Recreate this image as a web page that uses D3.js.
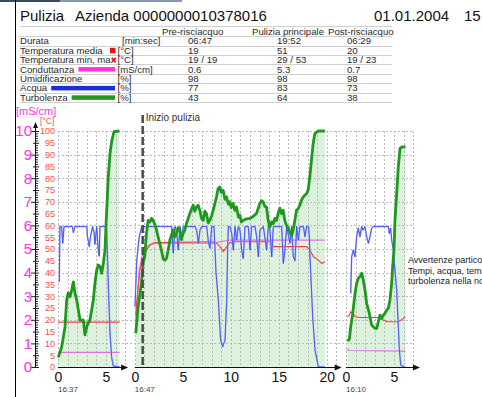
<!DOCTYPE html>
<html><head><meta charset="utf-8">
<script src="https://cdn.jsdelivr.net/npm/d3@7"></script>
<style>
html,body{margin:0;padding:0;background:#fff;}
svg{display:block;font-family:"Liberation Sans",Arial,sans-serif;}
</style></head><body>
<svg id="c" width="482" height="397"></svg>
<script>
// ---------------- DATA ----------------
const titleText = "Pulizia";
const aziendaText = "Azienda 0000000010378016";
const dateText = "01.01.2004";
const hourText = "15";
const phases = ["Pre-risciacquo", "Pulizia principale", "Post-risciacquo"];
const rowLabels = ["Durata", "Temperatura media", "Temperatura min, max", "Conduttanza", "Umidificazione", "Acqua", "Turbolenza"];
const rowUnits = ["[min:sec]", "[°C]", "[°C]", "[mS/cm]", "[%]", "[%]", "[%]"];
const durata = ["06:47", "19:52", "06:29"];
const tempMedia = ["19", "51", "20"];
const tempMinMax = ["19 / 19", "29 / 53", "19 / 23"];
const conduttanza = ["0.6", "5.3", "0.7"];
const umidificazione = ["98", "98", "98"];
const acquaPct = ["77", "83", "73"];
const turbolenzaPct = ["43", "64", "38"];
const warningLines = ["Avvertenze particolari", "Tempi, acqua, temperatura e", "turbolenza nella norma"];
const inizioLabel = "Inizio pulizia";

const panelOffsets = [0, 8, 30];          // global minute where each phase is drawn
const panelTicks = [[0, 5], [0, 5, 10, 15, 20], [0, 5]];
const panelClock = ["16:37", "16:47", "16:10"];
const inizioMinute = 0.82;                // minutes into phase 2
const yTicksC = d3.range(0, 101, 5);
const yTicksMS = d3.range(0, 11, 1);

// phase 1
const turb1 = [[0.03,4.1],[0.39,8.6],[0.73,17],[0.9,28.4],[1.07,31.4],[1.25,29.8],[1.43,32.6],[1.6,36.1],[1.77,31.2],[1.95,28.4],[2.29,19.9],[2.64,19.9],[2.81,13.6],[3.05,17.8],[3.33,19.9],[3.68,28.4],[3.85,35.5],[4.03,41.1],[4.2,43.2],[4.38,42.5],[4.55,39.7],[4.72,43.9],[4.9,49.6],[5.0,60],[5.24,80.6],[5.42,90.5],[5.59,95.5],[5.83,99.7],[6.4,100]];
const acqua1 = [[0.14,36],[0.2,59.5],[0.38,59.5],[0.49,52.4],[0.63,59.5],[1.5,59.5],[1.6,57],[1.77,59.5],[3.0,59.5],[3.06,55.5],[3.26,51],[3.4,55.5],[3.6,59.5],[3.75,57],[3.85,52],[4.03,59.5],[4.2,49],[4.3,47],[4.37,59.5],[5.0,59.5],[5.07,58],[5.14,49.6],[5.24,35],[5.42,14],[5.59,4],[5.76,0.4],[6.4,0]];
const temp1 = [[0,19],[6.4,19]];
const cond1 = [[0,0.62],[6.4,0.62]];

// phase 2
const turb2 = [[0.1,14.3],[0.35,25.6],[0.69,35.6],[0.87,44.1],[1.04,46.9],[1.2,56],[1.39,62.1],[1.56,61.4],[1.75,63],[1.91,62.1],[2.19,59.3],[2.43,55.1],[2.78,49.4],[2.95,45.9],[3.125,45.2],[3.3,46],[3.47,49.4],[3.65,53.7],[3.99,58],[4.15,55],[4.34,56.5],[4.5,59],[4.69,58],[4.85,54],[5.03,56.5],[5.2,58],[5.38,60.7],[5.73,65],[6.08,68.5],[6.25,66],[6.42,67.8],[6.6,68.5],[6.77,66.4],[6.95,63],[7.12,62.1],[7.3,66],[7.47,64.9],[7.65,61],[7.81,62.1],[8.0,64],[8.16,66.4],[8.51,72.1],[8.68,75.6],[8.85,76.3],[9.0,74],[9.2,74.9],[9.4,71],[9.55,72.1],[9.75,69],[9.9,70],[10.05,67.5],[10.24,69.3],[10.42,66.4],[10.59,67.8],[10.8,63.5],[10.94,64.3],[11.1,61.5],[11.28,62.1],[11.63,62.8],[12.0,63],[12.33,63.8],[12.67,65],[13.02,69.2],[13.2,70.5],[13.37,70],[13.55,68],[13.72,67.8],[13.9,62],[14.06,59.3],[14.25,61.5],[14.41,60.7],[14.6,63],[14.76,62.1],[14.93,65],[15.1,67.3],[15.28,65],[15.45,66.4],[15.63,62.1],[15.8,60],[15.97,59.3],[16.15,57],[16.32,55.7],[16.49,57.9],[16.67,62.1],[16.84,66.4],[17.0,67],[17.19,68.5],[17.36,70.6],[17.53,72],[17.71,72.8],[17.9,73.5],[18.06,75],[18.23,80.5],[18.4,87.6],[18.58,94.6],[18.75,98.8],[19.1,100],[19.8,100]];
const acqua2 = [[0.02,25.6],[0.2,45],[0.45,55],[0.72,59.5],[3.84,59.5],[4.01,48.2],[4.19,59.5],[4.36,57.3],[4.53,49.6],[4.71,59.5],[4.88,54.5],[5.05,59.5],[6.27,59.5],[6.44,58],[6.62,52.4],[6.79,58],[6.97,59.5],[7.49,59.5],[7.66,53.1],[7.83,50.3],[8.01,59.5],[8.25,59.5],[8.46,40],[8.7,28.4],[8.94,11.4],[9.15,8.6],[9.4,11.4],[9.57,28],[9.67,49.6],[9.74,59.5],[9.92,59.5],[10.09,56.6],[10.26,49.6],[10.44,59.5],[10.61,53.8],[10.78,59.5],[10.96,58],[11.13,49.6],[11.3,46],[11.48,59.5],[11.82,59.5],[12.0,49.6],[12.17,59.5],[12.52,59.5],[12.69,55.2],[12.87,46.7],[13.04,58],[13.39,59.5],[13.73,49.6],[13.91,59.5],[14.08,58],[14.26,46.7],[14.43,59.5],[15.3,59.5],[15.47,43.9],[15.64,49.6],[15.82,59.5],[16.17,52.4],[16.34,59.5],[16.51,46.7],[16.69,45],[16.86,59.5],[17.03,53.8],[17.21,59.5],[17.56,59.5],[17.73,55.2],[17.9,59.5],[18.1,59.5],[18.18,55.2],[18.25,46.7],[18.42,31.2],[18.53,21.3],[18.77,7.2],[19.12,0],[19.8,0]];
const temp2 = [[0.1,22],[0.19,27],[0.54,41],[0.89,46.7],[1.24,49.6],[1.58,51.7],[2.1,52.7],[8.18,53.1],[8.53,52.4],[8.88,51],[9.22,48.9],[9.57,51],[9.92,52.7],[10.26,53.1],[14.08,53.1],[14.26,52.4],[14.43,51],[17.9,51],[18.25,49.6],[18.6,46.7],[19.12,45.3],[19.47,43.9],[19.8,44.6]];
const cond2 = [[0.1,1.5],[0.2,2.6],[0.45,4.1],[0.72,4.65],[1.07,4.95],[1.41,5.15],[1.93,5.25],[8.18,5.25],[9.92,5.38],[19.8,5.38]];

// phase 3
const turb3 = [[0.14,11.1],[0.35,11.7],[0.49,17.1],[0.7,22.7],[0.94,31.2],[1.11,35.5],[1.28,37.6],[1.46,38.3],[1.63,39.7],[1.8,36.9],[1.98,32.6],[2.15,27],[2.43,22.7],[2.67,17.8],[3.02,16.4],[3.2,16.4],[3.37,19.2],[3.54,22],[3.72,20.6],[3.89,22],[4.06,22.7],[4.24,24.2],[4.41,24.9],[4.58,28.4],[4.76,35.5],[4.86,42.5],[5.0,49.6],[5.1,62.3],[5.28,73.6],[5.45,84.9],[5.63,92.7],[5.9,93.3],[6.2,93.3]];
const acqua3 = [[0.49,31.2],[0.59,46.7],[0.76,49.6],[0.94,46.7],[1.11,55.2],[1.28,58.8],[1.46,55.2],[1.63,59.5],[1.8,58],[1.98,59.5],[2.15,55.2],[2.33,52.4],[2.5,55.2],[2.67,58.8],[2.85,59.5],[4.41,59.5],[4.51,56.6],[4.65,58.8],[4.76,53.8],[4.93,49.6],[5.1,41.1],[5.28,32.6],[5.45,17.1],[5.56,7.2],[5.7,0.8],[6.04,0],[6.2,0]];
const temp3 = [[0.14,21.3],[0.35,22],[0.49,23.4],[0.76,22.7],[0.94,21.3],[1.46,21],[3.2,21],[3.54,20.6],[3.89,19.9],[4.24,19.2],[5.28,19.2],[5.63,19.6],[5.97,20.6],[6.15,21.3]];
const cond3 = [[0.1,0.78],[0.3,0.7],[6.15,0.67]];

const turbSeries = [turb1, turb2, turb3];
const acquaSeries = [acqua1, acqua2, acqua3];
const tempSeries = [temp1, temp2, temp3];
const condSeries = [cond1, cond2, cond3];

// ---------------- DRAW ----------------
const svg = d3.select("#c");
const C = {green:"#1c9a1c", fill:"#dcf2dc", blue:"#2a3af0", blueL:"#9ea8ff", red:"#ff3c3c", mag:"#e070e0", magL:"#ff33dd", grid:"#b9b9b9"};

const x = d3.scaleLinear().domain([0, 37]).range([58, 58 + 37 * 9.6]);
const y = d3.scaleLinear().domain([0, 100]).range([367, 131]);
const yC = d3.scaleLinear().domain([0, 10]).range([367, 131]);

// frame bits
svg.append("rect").attr("x", 0).attr("y", 0).attr("width", 60).attr("height", 2).attr("fill", "#3c4a6a");
svg.append("rect").attr("x", 60).attr("y", 0).attr("width", 122).attr("height", 2).attr("fill", "#8a98b8");
svg.append("line").attr("x1", 15.5).attr("x2", 15.5).attr("y1", 0).attr("y2", 397).attr("stroke", "#000").attr("stroke-width", 1);

// title
svg.append("text").attr("x", 20).attr("y", 20.5).attr("font-size", 15).attr("fill", "#111").text(titleText);
svg.append("text").attr("x", 75).attr("y", 20.5).attr("font-size", 15).attr("fill", "#111").text(aziendaText);
svg.append("text").attr("x", 374).attr("y", 20.5).attr("font-size", 15).attr("fill", "#111").text(dateText);
svg.append("text").attr("x", 464).attr("y", 20.5).attr("font-size", 15).attr("fill", "#111").text(hourText);

// table
const rowY0 = 31.5, rowH = 9.4;
const tbl = svg.append("g").attr("font-size", 9.6).attr("fill", "#2a2a2a");
tbl.append("line").attr("x1", 20).attr("x2", 392).attr("y1", 26.5).attr("y2", 26.5).attr("stroke", "#cfcfcf");
d3.range(0, 8).forEach(i => {
  const yy = Math.round(rowY0 + rowH * i + 4.7) + 0.5;
  tbl.append("line").attr("x1", 20).attr("x2", 392).attr("y1", yy).attr("y2", yy).attr("stroke", "#cfcfcf");
});
const headX = [162, 252, 328];
phases.forEach((p, i) => tbl.append("text").attr("x", headX[i]).attr("y", rowY0 + 3.4).text(p));
const tableValues = [durata, tempMedia, tempMinMax, conduttanza, umidificazione, acquaPct, turbolenzaPct];
const colX = [188, 277, 347];
rowLabels.forEach((lab, r) => {
  const cy = rowY0 + rowH * (r + 1);
  const t = tbl.append("text").attr("x", 20).attr("y", cy + 3.4).text(lab);
  const endX = 20 + t.node().getComputedTextLength();
  tbl.append("text").attr("x", r === 0 ? 122 : 117.5).attr("y", cy + 3.4).text(rowUnits[r]);
  tableValues[r].forEach((v, c) => tbl.append("text").attr("x", colX[c]).attr("y", cy + 3.4).text(v));
  if (r === 1) tbl.append("rect").attr("x", 110).attr("y", cy - 2.5).attr("width", 5.5).attr("height", 5.5).attr("fill", "#ee1111");
  if (r === 2) tbl.append("path").attr("d", `M112,${cy - 2} L116,${cy + 2} M116,${cy - 2} L112,${cy + 2}`).attr("stroke", "#ee1111").attr("stroke-width", 1.3);
  const barCol = {3: C.magL, 5: "#1a2ee0", 6: "#1c9a1c"}[r];
  if (barCol) tbl.append("rect").attr("x", endX + 4).attr("y", cy - 2).attr("width", 115 - endX - 4).attr("height", 4.5).attr("fill", barCol);
});

// green fills
const plot = svg.append("g");
turbSeries.forEach((s, i) => {
  const area = d3.area().x(d => x(panelOffsets[i] + d[0])).y0(y(0)).y1(d => y(d[1]));
  plot.append("path").datum(s).attr("d", area).attr("fill", C.fill);
});

// grid
const grid = svg.append("g").attr("stroke", C.grid).attr("stroke-width", 1).attr("stroke-dasharray", "2,2");
d3.range(10, 101, 10).forEach(v => grid.append("line").attr("x1", x(0)).attr("x2", x(37)).attr("y1", Math.round(y(v)) + 0.5).attr("y2", Math.round(y(v)) + 0.5));
d3.range(0, 38).forEach(m => grid.append("line").attr("x1", Math.round(x(m)) + 0.5).attr("x2", Math.round(x(m)) + 0.5).attr("y1", y(100)).attr("y2", y(0)));

// series
const series = svg.append("g").attr("fill", "none").attr("stroke-linejoin", "round");
condSeries.forEach((s, i) => {
  const ln = d3.line().x(d => x(panelOffsets[i] + d[0])).y(d => yC(d[1]));
  series.append("path").datum(s).attr("d", ln).attr("stroke", C.mag).attr("stroke-width", 1.2);
});
tempSeries.forEach((s, i) => {
  const ln = d3.line().x(d => x(panelOffsets[i] + d[0])).y(d => y(d[1]));
  series.append("path").datum(s).attr("d", ln).attr("stroke", C.red).attr("stroke-width", 1.1);
});
acquaSeries.forEach((s, i) => {
  const ln = d3.line().x(d => x(panelOffsets[i] + d[0])).y(d => y(d[1]));
  series.append("path").datum(s).attr("d", ln).attr("stroke", C.blueL).attr("stroke-width", 1.5);
  series.append("path").datum(s).attr("d", ln).attr("stroke", C.blue).attr("stroke-width", 0.7);
});
turbSeries.forEach((s, i) => {
  const ln = d3.line().x(d => x(panelOffsets[i] + d[0])).y(d => y(d[1]));
  series.append("path").datum(s).attr("d", ln).attr("stroke", C.green).attr("stroke-width", 2.8);
});

// inizio pulizia
const xi = x(panelOffsets[1] + inizioMinute);
svg.append("line").attr("x1", xi).attr("x2", xi).attr("y1", 115).attr("y2", 367)
  .attr("stroke", "#4a4a4a").attr("stroke-width", 2.5).attr("stroke-dasharray", "8,3");
svg.append("text").attr("x", xi + 3).attr("y", 121).attr("font-size", 10).attr("fill", "#333").text(inizioLabel);

// y axis (ruler)
const gy = svg.append("g").attr("transform", "translate(35,0)")
  .call(d3.axisLeft(y).tickValues(d3.range(0, 101, 1)).tickFormat("").tickSizeOuter(0));
gy.select(".domain").remove();
gy.selectAll(".tick line").attr("stroke", "#222")
  .attr("x1", d => d % 5 === 0 ? 4 : 3).attr("x2", d => d % 10 === 0 ? -4 : (d % 5 === 0 ? -2 : 0));
svg.append("line").attr("x1", 35.5).attr("x2", 35.5).attr("y1", y(0)).attr("y2", 126).attr("stroke", "#111");
svg.append("path").attr("d", "M35.5,122 L33,128 L38,128 Z").attr("fill", "#111");

const gr = svg.append("g").attr("transform", "translate(55,0)")
  .call(d3.axisLeft(y).tickValues(yTicksC).tickSize(0).tickPadding(0));
gr.select(".domain").remove();
gr.selectAll("text").attr("font-size", 9).attr("fill", "#ff4a4a").attr("font-family", "Liberation Sans, Arial, sans-serif");

const gm = svg.append("g").attr("transform", "translate(32,0)")
  .call(d3.axisLeft(yC).tickValues(yTicksMS).tickSize(0).tickPadding(0));
gm.select(".domain").remove();
gm.selectAll("text").attr("font-size", 15).attr("fill", C.magL).attr("font-family", "Liberation Sans, Arial, sans-serif");

svg.append("text").attr("x", 16).attr("y", 114.5).attr("font-size", 11).attr("fill", C.magL).text("[mS/cm]");
svg.append("text").attr("x", 40).attr("y", 124).attr("font-size", 8.5).attr("fill", "#ff4a4a").text("[°C]");

// x axes per phase
const axisEnds = [7.3, 21.55, 7.7];
panelOffsets.forEach((off, i) => {
  const xl = d3.scaleLinear().domain([0, 1]).range([x(off), x(off + 1)]);
  const g = svg.append("g").attr("transform", "translate(0,367)")
    .call(d3.axisBottom(xl).tickValues(panelTicks[i]).tickSize(0).tickPadding(5).tickFormat(d3.format("d")));
  g.select(".domain").remove();
  g.selectAll("text").attr("font-size", 14).attr("fill", "#111").attr("font-family", "Liberation Sans, Arial, sans-serif");
  const x0 = xl(0), x1 = xl(axisEnds[i]);
  svg.append("line").attr("x1", x0).attr("x2", x1 - 3).attr("y1", 367.5).attr("y2", 367.5).attr("stroke", "#111");
  svg.append("path").attr("d", `M${x1},367.5 L${x1 - 7},364.5 L${x1 - 7},370.5 Z`).attr("fill", "#111");
  svg.append("text").attr("x", x0).attr("y", 392).attr("font-size", 8).attr("fill", "#444").text(panelClock[i]);
});

// warnings
warningLines.forEach((t, i) => svg.append("text").attr("x", 408).attr("y", 263 + i * 10.5).attr("font-size", 9).attr("fill", "#222").text(t));
</script>
</body></html>
